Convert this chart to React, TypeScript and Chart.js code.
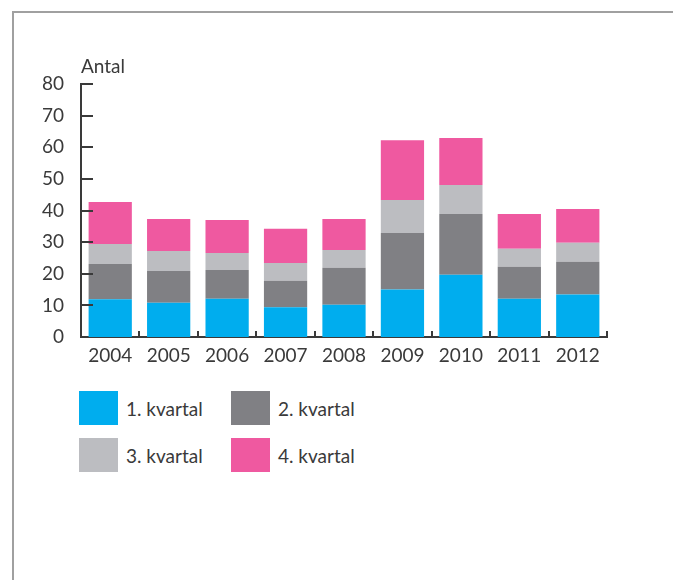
import React, { useEffect, useRef } from "react";
import { Chart, registerables } from "chart.js";

Chart.register(...registerables);

const years = ["2004", "2005", "2006", "2007", "2008", "2009", "2010", "2011", "2012"];
const q1 = [11.9, 10.8, 12.1, 9.4, 10.2, 15.0, 19.7, 12.1, 13.4];
const q2 = [11.2, 10.1, 9.1, 8.4, 11.7, 17.9, 19.2, 10.1, 10.4];
const q3 = [6.3, 6.3, 5.4, 5.6, 5.6, 10.4, 9.2, 5.7, 6.0];
const q4 = [13.3, 10.1, 10.4, 10.8, 9.8, 18.9, 14.8, 11.0, 10.7];
const seriesLabels = ["1. kvartal", "2. kvartal", "3. kvartal", "4. kvartal"];
const seriesColors = ["#00adee", "#808084", "#bcbdc1", "#ef59a0"];
const yTicks = [0, 10, 20, 30, 40, 50, 60, 70, 80];
const yTitle = "Antal";

const FONT = "Lato, 'Open Sans', sans-serif";
const TEXT = "#3a3a3a";

const decorPlugin = {
  id: "decor",
  afterDraw(chart: any) {
    const ctx = chart.ctx;
    const area = chart.chartArea;
    const y = chart.scales.y;
    const x = chart.scales.x;
    ctx.save();
    ctx.strokeStyle = TEXT;
    ctx.lineWidth = 2;
    ctx.beginPath();
    yTicks.forEach((v) => {
      if (v === 0) return;
      const py = Math.round(y.getPixelForValue(v));
      ctx.moveTo(area.left, py);
      ctx.lineTo(area.left + 12, py);
    });
    for (let i = 1; i <= years.length; i++) {
      const px = Math.round(x.getPixelForValue(i - 0.5));
      ctx.moveTo(px, area.bottom);
      ctx.lineTo(px, area.bottom - 6);
    }
    ctx.stroke();
    ctx.fillStyle = TEXT;
    ctx.font = `400 19px ${FONT}`;
    ctx.textAlign = "left";
    ctx.textBaseline = "alphabetic";
    ctx.fillText(yTitle, area.left, area.top - 11);
    ctx.restore();
  },
};

export default function App() {
  const ref = useRef<HTMLCanvasElement | null>(null);
  useEffect(() => {
    if (!ref.current) return;
    const data = [q1, q2, q3, q4];
    const chart = new Chart(ref.current, {
      type: "bar",
      data: {
        labels: years,
        datasets: data.map((d, i) => ({
          label: seriesLabels[i],
          data: d,
          backgroundColor: seriesColors[i],
          borderWidth: 0,
          categoryPercentage: 1,
          barPercentage: 0.74,
        })),
      },
      options: {
        animation: false,
        responsive: true,
        maintainAspectRatio: false,
        layout: { padding: { left: 0, right: 66, top: 84, bottom: 0 } },
        plugins: { legend: { display: false }, tooltip: { enabled: false } },
        scales: {
          x: {
            stacked: true,
            grid: { display: false },
            border: { display: true, color: TEXT, width: 2 },
            ticks: { color: TEXT, font: { family: FONT, size: 19, weight: "400" }, padding: -1 },
            afterFit: (s: any) => { s.height = 43; },
          },
          y: {
            stacked: true,
            min: 0,
            max: 80,
            grid: { display: false },
            border: { display: true, color: TEXT, width: 2 },
            ticks: { color: TEXT, stepSize: 10, font: { family: FONT, size: 19, weight: "400" }, padding: 9 },
            afterFit: (s: any) => { s.width = 81; },
          },
        },
      },
      plugins: [decorPlugin],
    });
    return () => chart.destroy();
  }, []);

  const legendItems = seriesLabels.map((l, i) => ({ label: l, color: seriesColors[i] }));
  const positions = [
    { left: 79, top: 391 },
    { left: 231, top: 391 },
    { left: 79, top: 438 },
    { left: 231, top: 438 },
  ];

  return (
    <div style={{ position: "fixed", left: 0, top: 0, width: 673, height: 580, overflow: "hidden", background: "#fff" }}>
      <div style={{ position: "absolute", left: 12, top: 11, right: 0, bottom: 0, borderTop: "2px solid #a0a0a0", borderLeft: "2px solid #a0a0a0" }} />
      <div style={{ position: "absolute", left: 0, top: 0, width: 673, height: 380 }}>
        <canvas ref={ref} />
      </div>
      {legendItems.map((it, i) => (
        <div key={i} style={{ position: "absolute", left: positions[i].left, top: positions[i].top, display: "flex", alignItems: "center", height: 34 }}>
          <div style={{ width: 39, height: 34, background: it.color }} />
          <span style={{ marginLeft: 8, fontFamily: FONT, fontWeight: 400, fontSize: 19, color: TEXT }}>{it.label}</span>
        </div>
      ))}
    </div>
  );
}
